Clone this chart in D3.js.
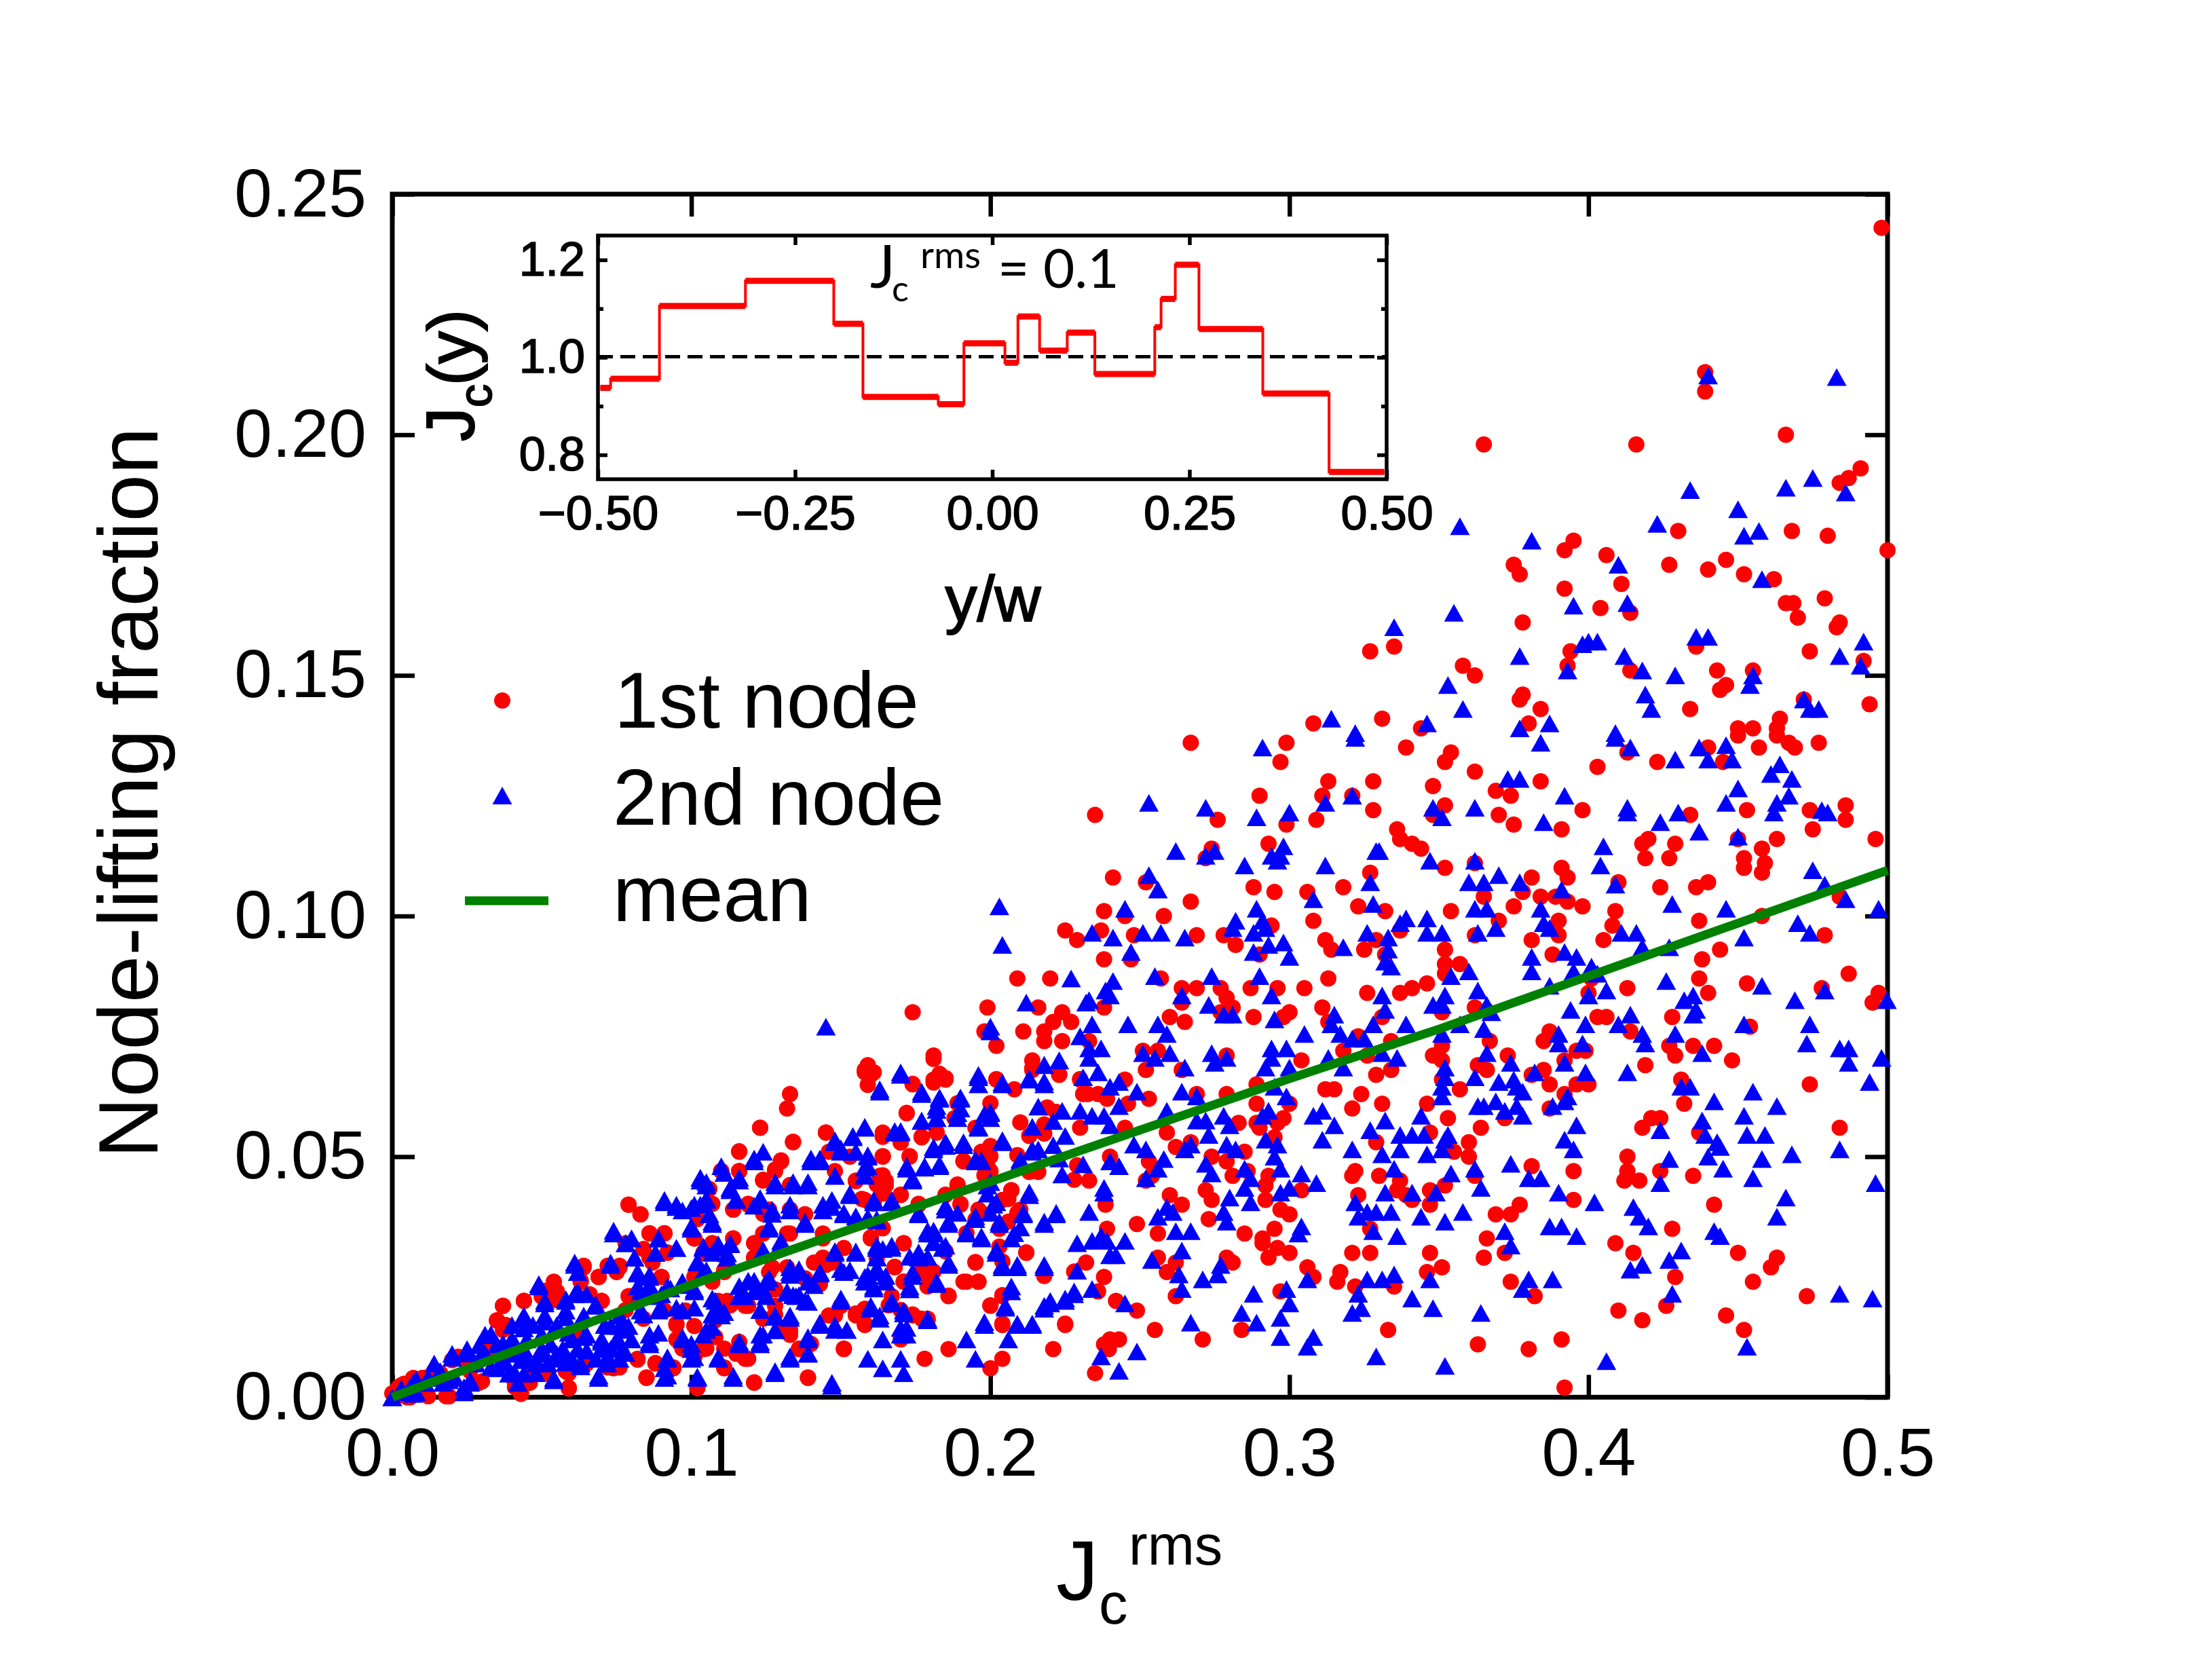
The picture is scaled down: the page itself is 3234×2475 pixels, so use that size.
<!DOCTYPE html>
<html><head><meta charset="utf-8">
<script src="https://cdn.jsdelivr.net/npm/d3@7"></script>
<style>html,body{margin:0;padding:0;background:#fff}svg{display:block}text{font-family:"Liberation Sans",Arial,sans-serif;fill:#000}</style>
</head><body><svg id="c" width="3234" height="2475"></svg>
<script>
const xTicks=[0,0.1,0.2,0.3,0.4,0.5];
const yTicks=[0,0.05,0.1,0.15,0.2,0.25];
const insetXTicks=[-0.5,-0.25,0,0.25,0.5];
const insetYTicks=[0.8,1.0,1.2];
const insetYMinor=[0.9,1.1];
const stepEdges=[-0.497,-0.484,-0.422,-0.313,-0.201,-0.164,-0.0685,-0.036,0.016,0.0325,0.06,0.095,0.13,0.206,0.214,0.232,0.262,0.343,0.427,0.497];
const stepLevels=[0.9375,0.956,1.1055,1.157,1.069,0.919,0.904,1.029,0.989,1.084,1.014,1.051,0.966,1.062,1.12,1.19,1.058,0.926,0.765];
const meanX=[0,0.05,0.1,0.15,0.2,0.25,0.3,0.35,0.4,0.45,0.5];
const meanY=[0,0.0118,0.0234,0.0342,0.0448,0.0555,0.0662,0.0765,0.0875,0.0985,0.1095];
const firstNode=[[.498,.243],[.439,.213],[.439,.209],[.365,.198],[.416,.198],[.466,.2],[.491,.193],[.487,.191],[.484,.19],[.43,.18],[.468,.18],[.48,.179],[.395,.178],[.392,.176],[.406,.175],[.375,.173],[.377,.171],[.427,.173],[.446,.174],[.44,.172],[.452,.171],[.462,.17],[.5,.176],[.411,.169],[.392,.168],[.404,.164],[.414,.163],[.378,.161],[.466,.165],[.4685,.165],[.47,.162],[.479,.166],[.484,.161],[.483,.16],[.327,.155],[.335,.156],[.394,.155],[.393,.152],[.436,.156],[.474,.155],[.492,.153],[.358,.152],[.362,.15],[.414,.151],[.443,.151],[.455,.151],[.446,.148],[.444,.147],[.378,.146],[.377,.145],[.384,.143],[.434,.143],[.472,.145],[.494,.144],[.308,.14],[.331,.141],[.464,.141],[.38,.14],[.45,.139],[.455,.139],[.463,.139],[.344,.139],
[.267,.136],[.299,.136],[.297,.132],[.339,.135],[.354,.134],[.352,.132],[.44,.135],[.45,.1375],[.457,.135],[.463,.1375],[.467,.136],[.469,.135],[.477,.136],[.413,.134],[.423,.132],[.445,.132],[.403,.131],[.362,.13],[.313,.128],[.328,.128],[.348,.127],[.369,.126],[.374,.125],[.384,.128],[.29,.125],[.311,.125],[.321,.125],[.352,.123],[.328,.122],[.235,.121],[.276,.12],[.299,.119],[.309,.12],[.37,.121],[.375,.119],[.398,.122],[.391,.118],[.434,.121],[.453,.122],[.474,.122],[.486,.123],[.486,.12],[.475,.118],[.348,.121],[.336,.118],[.337,.116],[.341,.115],[.344,.114],[.293,.115],[.274,.114],[.272,.112],[.352,.11],[.362,.111],[.327,.109],[.42,.116],[.418,.115],[.429,.115],[.419,.112],[.427,.112],[.45,.116],[.458,.114],[.463,.116],[.452,.112],[.452,.11],[.459,.111],[.458,.109],[.496,.116],[.391,.11],[.393,.108],[.381,.108],[.41,.107],[.241,.108],[.252,.107],[.288,.106],[.295,.105],[.318,.106],[.306,.105],[.424,.106],[.436,.106],[.44,.107],[.378,.105],[.384,.104],[.365,.104],[.389,.104],[.393,.103],[.484,.104],[.267,.103],[.323,.102],[.332,.101],[.354,.101],[.375,.102],[.398,.102],[.409,.101],[.238,.101],[.258,.1],[.308,.099],[.37,.099],[.39,.099],[.437,.099],[.458,.1],[.408,.098],[.245,.1],[.237,.097],[.248,.096],[.269,.096],[.278,.096],[.282,.094],[.294,.098],[.29,.092],[.337,.097],[.329,.095],[.312,.095],[.314,.093],[.325,.093],[.332,.092],[.362,.096],[.352,.093],[.39,.096],[.405,.095],[.381,.095],[.479,.096],[.444,.093],[.438,.091],[.388,.092],[.238,.091],[.247,.091],[.352,.09],[.357,.09],[.352,.088],[.487,.088],[.437,.087],[.453,.086],[.257,.087],[.313,.087],[.401,.087],[.264,.085],[.269,.085],[.277,.085],[.287,.085],[.296,.085],[.305,.085],[.326,.084],[.337,.084],[.341,.085],[.346,.086],[.413,.085],[.44,.084],[.4,.084],[.478,.085],[.497,.084],[.495,.082],[.279,.083],[.264,.082],[.281,.081],[.238,.081],[.277,.08],[.3,.08],[.311,.081],[.298,.079],[.26,.079],[.265,.078],[.288,.079],[.331,.079],[.362,.081],[.351,.08],[.403,.079],[.406,.079],[.428,.079],[.313,.078],[.454,.077],[.387,.076],[.414,.076],[.323,.075],[.233,.074],[.385,.074],[.334,.074],[.367,.074],[.427,.073],[.435,.073],[.442,.073],[.251,.072],[.256,.072],[.318,.072],[.351,.073],[.396,.072],[.399,.072],[.429,.071],[.348,.071],[.279,.071],[.373,.071],[.448,.07],[.304,.07],[.351,.07],[.392,.07],[.326,.071],[.363,.069],[.366,.068],[.419,.069],[.264,.068],[.252,.068],[.334,.068],[.329,.067],[.385,.068],[.381,.067],[.351,.066],[.396,.065],[.4,.065],[.431,.066],[.245,.066],[.474,.065],[.289,.065],[.387,.065],[.312,.064],[.315,.064],[.357,.064],[.269,.063],[.279,.063],[.324,.063],[.236,.063],[.2325,.063],[.253,.062],[.239,.062],[.289,.061],[.246,.061],[.3,.061],[.346,.061],[.331,.061],[.392,.063],[.432,.061],[.321,.06],[.387,.06],[.289,.057],[.298,.058],[.296,.057],[.353,.058],[.372,.058],[.421,.058],[.424,.058],[.283,.057],[.245,.056],[.364,.056],[.418,.056],[.484,.056],[.29,.056],[.259,.055],[.347,.055],[.437,.055],[.295,.054],[.267,.053],[.329,.053],[.36,.053],[.262,.052],[.24,.05],[.285,.051],[.355,.051],[.36,.05],[.274,.05],[.413,.05],[.253,.049],[.279,.049],[.381,.048],[.413,.047],[.424,.047],[.395,.047],[.286,.047],[.322,.047],[.254,.046],[.281,.046],[.293,.046],[.33,.046],[.321,.046],[.362,.046],[.435,.046],[.412,.045],[.417,.045],[.233,.045],[.252,.045],[.337,.045],[.352,.044],[.292,.044],[.272,.043],[.304,.043],[.336,.043],[.347,.043],[.323,.042],[.26,.042],[.339,.042],[.274,.041],[.292,.041],[.341,.041],[.2385,.04],[.264,.04],[.347,.04],[.377,.04],[.395,.041],[.442,.04],[.297,.039],[.3,.038],[.369,.038],[.374,.038],[.273,.037],[.249,.036],[.295,.035],[.327,.035],[.239,.035],[.428,.035],[.256,.034],[.285,.034],[.366,.033],[.291,.033],[.409,.032],[.291,.032],[.296,.031],[.3,.03],[.321,.03],[.327,.03],[.347,.03],[.372,.03],[.415,.03],[.45,.03],[.463,.029],[.293,.029],[.279,.029],[.256,.029],[.365,.029],[.281,.028],[.262,.028],[.306,.027],[.351,.027],[.461,.027],[.259,.026],[.317,.026],[.346,.026],[.308,.025],[.238,.025],[.429,.025],[.316,.024],[.374,.024],[.455,.024],[.322,.023],[.335,.023],[.297,.022],[.236,.022],[.262,.021],[.382,.021],[.473,.021],[.242,.02],[.426,.019],[.249,.018],[.41,.018],[.446,.017],[.418,.016],[.255,.014],[.333,.014],[.452,.014],[.284,.014],[.271,.012],[.363,.011],[.391,.012],[.243,.012],[.24,.012],[.238,.011],[.38,.01],[.2396,.01],[.235,.005],[.392,.002],
[.225,.097],[.229,.095],[.209,.087],[.22,.087],[.174,.08],[.199,.081],[.216,.081],[.224,.08],[.227,.078],[.221,.078],[.218,.076],[.198,.076],[.211,.076],[.202,.073],[.218,.074],[.224,.074],[.181,.071],[.214,.07],[.159,.069],[.158,.068],[.16,.067],[.183,.067],[.185,.066],[.181,.066],[.174,.065],[.202,.066],[.214,.068],[.223,.067],[.23,.066],
[.133,.063],[.132,.06],[.123,.056],[.134,.053],[.116,.051],[.145,.055],[.13,.049],[.128,.047],[.11,.047],[.116,.047],[.124,.045],[.133,.044],[.164,.055],[.172,.059],[.177,.054],[.182,.055],[.17,.053],[.173,.05],[.153,.05],[.164,.05],[.146,.051],[.191,.049],[.199,.048],[.163,.046],[.165,.044],[.155,.045],[.17,.042],[.158,.041],[.176,.04],[.189,.044],[.185,.042],[.207,.043],[.204,.041],[.199,.046],[.21,.039],[.19,.04],[.196,.039],[.203,.035],[.212,.03],[.195,.028],[.191,.024],[.196,.024],[.171,.032],[.16,.033],[.144,.034],[.138,.038],[.133,.039],[.114,.039],[.119,.04],[.132,.034],[.079,.04],[.083,.038],[.086,.034],[.091,.034],[.101,.033],[.107,.032],[.114,.033],[.121,.032],[.076,.027],[.086,.029],[.092,.03],[.104,.03],[.064,.027],[.054,.024],[.063,.024],[.069,.025],[.075,.026],[.09,.025],[.111,.026],[.121,.029],[.127,.027],[.144,.029],[.146,.028],[.151,.031],[.168,.027],[.179,.026],[.171,.024],[.179,.023],[.186,.021],[.204,.021],[.2,.019],[.225,.015],[.204,.015],[.221,.01],[.204,.008],[.2,.006],[.186,.01],[.178,.008],[.151,.01],[.139,.004],[.121,.003],[.085,.004],[.102,.002],[.059,.002],[.043,.001],[.029,.003],[.037,.019],[.044,.02],[.035,.016],[.037,.014],[.05,.021],[.055,.022],[.07,.02],[.079,.021],[.091,.018],[.095,.015],[.112,.02],[.118,.019],[.131,.014],[.133,.013],[.146,.017],[.155,.017],[.158,.015],[.167,.021],[.174,.017],[.179,.016],[.17,.012],[.136,.01],[.118,.008],[.111,.006],[.094,.006],[.088,.007],[.082,.008],[.074,.006],[.065,.007],[.059,.005],[.05,.005],[.041,.003],[.016,.005],[.024,.008],[.002,.002],[.007,.004],[.011,.004],[.018,.0002],[.001,0],[.006,0],[.032,.012],[.046,.005],[.098,.018],[.108,.016],[.095,.012],[.104,.01],[.115,.009],[.15,.019]];
const firstNodeDense=[[.116,.0511],[.134,.0531],[.123,.056],[.13,.0492],[.128,.0473],[.124,.0452],[.11,.047],[.116,.047],[.145,.055],[.148,.051],[.148,.047],[.133,.0441],[.079,.04],[.083,.038],[.106,.0433],[.107,.0402],[.114,.039],[.119,.0402],[.124,.0381],[.126,.039],[.133,.039],[.138,.038],[.102,.037],[.114,.033],[.107,.032],[.101,.033],[.133,.034],[.124,.034],[.121,.032],[.086,.0341],[.091,.0341],[.078,.032],[.084,.0308],[.092,.0301],[.087,.028],[.064,.0273],[.069,.025],[.075,.0261],[.076,.0273],[.072,.0273],[.09,.025],[.121,.029],[.144,.033],[.147,.028],[.141,.028],[.145,.0275],[.132,.027],[.126,.026],[.111,.0264],[.101,.025],[.107,.024],[.138,.0247],[.143,.0235],[.08,.021],[.07,.02],[.066,.0214],[.078,.0181],[.084,.0163],[.095,.0153],[.101,.0148],[.109,.02],[.113,.0191],[.128,.0224],[.128,.019],[.119,.019],[.148,.017],[.124,.0163],[.128,.0172],[.133,.014],[.133,.013],[.108,.0125],[.111,.0101],[.116,.0115],[.119,.008],[.105,.0101],[.097,.0101],[.101,.0083],[.082,.0078],[.088,.0071],[.094,.0062],[.076,.0062],[.072,.0062],[.065,.0073],[.085,.0041],[.111,.0062],[.121,.0031],[.139,.0041],[.102,.0019],[.136,.0101],[.14,.0111],[.151,.0101],
[.181,.0703],[.159,.0684],[.158,.0675],[.161,.0675],[.159,.0649],[.174,.0651],[.183,.0672],[.185,.0663],[.181,.0654],[.202,.0661],[.208,.064],[.214,.0684],[.223,.0671],[.23,.0661],[.231,.063],[.189,.0611],[.2,.0611],[.188,.058],[.172,.0591],[.21,.0571],[.219,.0602],[.222,.0593],[.218,.0567],[.213,.0543],[.218,.0548],[.23,.056],[.195,.056],[.182,.055],[.177,.0541],[.164,.0541],[.17,.0529],[.164,.0501],[.173,.0501],[.2,.0522],[.197,.051],[.2,.0501],[.191,.0491],[.209,.0503],[.2,.047],[.198,.0461],[.213,.0468],[.216,.0468],[.229,.0482],[.164,.0461],[.165,.0449],[.162,.0442],[.155,.0449],[.164,.0423],[.17,.0421],[.157,.0412],[.161,.0402],[.176,.0402],[.189,.0442],[.185,.0421],[.19,.0402],[.207,.043],[.206,.0412],[.228,.0452],[.164,.0351],[.16,.0332],[.171,.032],[.185,.0303],[.195,.0369],[.197,.0383],[.192,.0341],[.203,.0351],[.206,.0365],[.209,.0383],[.203,.0313],[.212,.0301],[.195,.0281],[.204,.0282],[.168,.0271],[.162,.0289],[.177,.0261],[.181,.0261],[.171,.024],[.179,.0231],[.192,.024],[.196,.024],[.218,.0252],[.228,.0261],[.232,.028],[.186,.0211],[.204,.0212],[.2,.0191],[.155,.0174],[.158,.0184],[.158,.0153],[.17,.0181],[.174,.0172],[.177,.0163],[.179,.0163],[.166,.0191],[.204,.0153],[.225,.0153],
[.054,.0239],[.037,.019],[.044,.02],[.051,.0221],[.05,.0209],[.055,.0202],[.035,.0159],[.038,.015],[.063,.0242],[.02,.0077],[.022,.0084],[.014,.0054],[.004,.0028],[.01,.004],[.003,.0025],[.03,.0033],[.043,.0007],[.041,.0021],[.046,.003],[.059,.0018],[.051,.0049],[.058,.0054],[.019,.0002],[.012,.0002],[.005,0],[.001,0],[0,.0008],[.062,.0129],[.025,.0068],[.032,.0087],[.026,.0054]];
const secondNode=[[.44,.2123],[.483,.212],[.357,.181],[.381,.178],[.434,.1885],[.466,.189],[.475,.191],[.486,.188],[.45,.1845],[.423,.1815],[.452,.179],[.457,.18],[.41,.173],[.458,.17],[.395,.1645],[.413,.165],[.355,.163],[.335,.16],[.436,.158],[.44,.158],[.398,.1565],[.4,.157],[.403,.157],[.492,.157],[.377,.154],[.412,.154],[.484,.154],[.393,.151],[.418,.151],[.429,.15],[.455,.15],[.491,.152],[.353,.148],[.454,.148],[.419,.146],[.358,.143],[.421,.143],[.472,.145],[.474,.143],[.477,.143],[.314,.141],[.346,.14],[.387,.14],[.377,.139],[.322,.138],[.409,.138],
[.322,.137],[.291,.135],[.409,.137],[.414,.135],[.384,.136],[.437,.135],[.446,.1355],[.429,.1325],[.44,.1325],[.448,.1325],[.464,.1315],[.461,.1295],[.468,.1285],[.373,.1285],[.377,.1285],[.45,.1265],[.392,.125],[.321,.125],[.467,.125],[.253,.1235],[.446,.1235],[.463,.1235],[.362,.1225],[.272,.1225],[.348,.1225],[.312,.1235],[.413,.1225],[.3,.1215],[.413,.1215],[.43,.1215],[.462,.1215],[.478,.122],[.48,.1215],[.351,.1205],[.289,.1205],[.385,.1195],[.424,.1195],[.437,.1175],[.45,.1165],[.405,.1145],[.262,.1135],[.298,.1145],[.275,.1135],[.329,.1135],[.33,.1135],[.272,.1125],[.294,.1125],[.297,.1125],[.296,.1115],[.362,.1115],[.347,.1115],[.404,.1105],[.285,.1105],[.312,.1105],[.475,.1095],[.253,.1085],[.37,.1085],[.327,.107],[.36,.107],[.365,.107],[.377,.107],[.409,.1065],[.479,.1065],[.256,.1055],[.391,.1055],[.308,.1035],[.486,.1035],[.428,.1025],[.289,.1015],[.328,.1025],[.362,.1015],[.366,.1015],[.384,.1015],[.245,.1015],[.446,.1015],[.497,.1015],[.346,.0995],[.282,.099],[.291,.099],[.339,.0995],[.47,.0985],[.337,.0985],[.385,.0985],[.281,.0975],[.292,.0975],[.387,.0975],[.369,.0975],[.257,.0965],[.251,.0965],[.234,.0965],[.326,.0965],[.346,.0965],[.351,.0965],[.363,.0965],[.411,.0965],[.416,.0965],[.474,.0965],[.288,.0965],[.241,.0955],[.265,.0955],[.452,.0955],[.333,.0955],[.293,.094],[.298,.0945],[.427,.0935],[.318,.0935],[.333,.093],[.418,.0935],[.392,.0925],[.396,.0915],[.247,.0925],[.288,.0925],[.3,.0915],[.381,.0915],[.332,.0905],[.401,.0895],[.334,.0895],[.36,.0885],[.381,.0885],[.395,.0885],[.255,.0875],[.274,.0875],[.29,.0875],[.403,.088],[.354,.0875],[.426,.0865],[.241,.0865],[.387,.0855],[.458,.0855],[.2385,.0845],[.363,.0845],[.406,.0845],[.479,.0845],[.331,.0835],[.294,.0835],[.264,.0835],[.4,.0835],[.24,.0835],[.352,.0835],[.435,.0835],[.432,.0825],[.469,.0825],[.4998,.0825],[.233,.0825],[.348,.0815],[.351,.0815],[.273,.0815],[.366,.0815],[.394,.0805],[.332,.0805],[.436,.0805],[.278,.0795],[.281,.0795],[.3675,.08],[.414,.0795],[.435,.0795],[.315,.0795],[.295,.0785],[.314,.0775],[.246,.0775],[.256,.0775],[.234,.0775],[.339,.0775],[.328,.0775],[.399,.0775],[.41,.0775],[.452,.0775],[.474,.0775],[.259,.0755],[.305,.0755],[.317,.0755],[.351,.0755],[.357,.0775],[.365,.0765],[.39,.0755],[.418,.0755],[.429,.0755],[.39,.0735],[.321,.0745],[.325,.0745],[.473,.0735],[.419,.0735],[.398,.0735],[.237,.0725],[.233,.0725],[.294,.0725],[.299,.0725],[.484,.0725],[.487,.0725],[.438,.0715],[.366,.0715],[.274,.0715],[.26,.0715],[.251,.0715],[.331,.0715],[.279,.0705],[.255,.0705],[.294,.0705],[.313,.0705],[.233,.0705],[.275,.0695],[.336,.0705],[.374,.0695],[.487,.0695],[.498,.0705],[.392,.0695],[.265,.0685],[.292,.0685],[.318,.0685],[.3,.0685],[.352,.0685],[.236,.0675],[.382,.0675],[.399,.0675],[.413,.0675],[.362,.0665],[.352,.0665],[.375,.066],[.37,.0655],[.243,.0655],[.24,.0645],[.494,.0655],[.351,.0645],[.376,.0645],[.431,.0645],[.434,.0645],[.295,.0645],[.249,.0635],[.378,.0635],[.264,.0635],[.455,.0635],[.269,.0625],[.299,.0625],[.351,.0625],[.393,.0625],[.243,.0605],[.365,.0605],[.392,.0615],[.369,.0615],[.442,.0615],[.363,.0605],[.376,.0605],[.463,.0605],[.388,.0605],[.259,.0595],[.293,.0595],[.372,.0595],[.378,.0585],[.278,.0585],[.291,.0585],[.234,.0585],[.238,.0585],[.308,.0585],[.311,.0595],[.344,.0585],[.452,.0585],[.269,.0575],[.438,.0575],[.332,.0575],[.272,.0575],[.396,.0565],[.315,.0565],[.24,.0565],[.28,.0565],[.424,.0555],[.327,.0555],[.273,.0545],[.337,.0545],[.341,.0545],[.345,.0545],[.353,.0545],[.439,.0545],[.453,.0545],[.459,.0545],[.292,.0535],[.352,.0535],[.392,.0535],[.311,.0535],[.443,.053],[.267,.0525],[.248,.0525],[.296,.0525],[.279,.0525],[.252,.0515],[.265,.0515],[.282,.0515],[.321,.0515],[.337,.0515],[.351,.0515],[.395,.0515],[.444,.052],[.484,.0515],[.331,.0505],[.346,.0505],[.468,.0505],[.295,.05],[.44,.05],[.258,.0495],[.427,.0495],[.458,.0495],[.24,.049],[.272,.0485],[.374,.0485],[.243,.048],[.256,.0475],[.335,.0475],[.362,.0475],[.445,.0475],[.285,.0475],[.297,.0475],[.304,.0465],[.274,.0465],[.354,.0465],[.38,.0455],[.384,.0455],[.455,.0455],[.252,.0455],[.287,.0455],[.309,.0445],[.424,.0445],[.496,.0445],[.238,.0435],[.364,.0435],[.3,.0435],[.285,.0435],[.297,.0425],[.332,.0425],[.341,.0425],[.349,.0425],[.39,.0425],[.238,.0425],[.28,.0415],[.466,.0415],[.287,.0405],[.322,.0405],[.402,.0405],[.415,.0395],[.259,.0395],[.261,.0385],[.326,.0385],[.329,.0385],[.334,.0385],[.358,.0385],[.233,.0385],[.278,.0385],[.417,.0375],[.463,.0375],[.323,.0375],[.344,.0375],[.256,.0375],[.352,.0365],[.279,.0365],[.42,.0355],[.387,.0355],[.391,.0355],[.304,.0355],[.328,.0345],[.267,.0345],[.262,.0345],[.372,.0345],[.442,.0345],[.303,.034],[.396,.0335],[.444,.0335],[.336,.0335],[.245,.0325],[.237,.0335],[.234,.0325],[.239,.0325],[.374,.0315],[.264,.0305],[.431,.0305],[.24,.0295],[.242,.0295],[.427,.0285],[.254,.0285],[.418,.0275],[.277,.0275],[.414,.0265],[.263,.0255],[.276,.0255],[.326,.0245],[.335,.0255],[.331,.0245],[.347,.0245],[.271,.0245],[.306,.0245],[.38,.0245],[.388,.0245],[.234,.0225],[.264,.0225],[.299,.0225],[.378,.0225],[.323,.0215],[.288,.0215],[.428,.0215],[.484,.0215],[.341,.0205],[.495,.0205],[.245,.0195],[.3,.0195],[.348,.0185],[.324,.0185],[.284,.0175],[.321,.0175],[.364,.0175],[.297,.0165],[.289,.0155],[.267,.0155],[.308,.0125],[.297,.0125],[.306,.0105],[.453,.0105],[.249,.0095],[.237,.0085],[.329,.0085],[.406,.0075],[.352,.0065],[.243,.0055],
[.203,.102],[.204,.094],[.227,.087],[.212,.082],[.232,.082],[.2,.077],[.2,.076],[.23,.075],[.223,.07],[.218,.069],[.17,.067],[.196,.067],[.204,.065],[.213,.066],[.218,.065],
[.145,.077],[.163,.064],[.177,.063],[.183,.062],[.19,.062],[.19,.06],[.182,.0605],[.182,.058],[.177,.0575],[.189,.058],[.2,.059],[.2,.058],[.196,.056],[.158,.056],[.168,.055],[.17,.055],[.154,.054],[.148,.053],[.15,.051],[.155,.051],[.159,.05],[.181,.052],[.185,.053],[.191,.053],[.204,.053],[.124,.051],[.121,.049],[.14,.049],[.143,.049],[.11,.048],[.103,.045],[.116,.045],[.105,.044],[.128,.044],[.134,.044],[.139,.044],[.113,.043],[.148,.046],[.159,.048],[.158,.046],[.172,.048],[.178,.048],[.183,.048],[.174,.045],[.195,.049],[.197,.049],[.21,.049],[.214,.051],[.153,.042],[.115,.041],[.105,.041],[.123,.041],[.091,.041],[.095,.04],[.101,.04],[.103,.04],[.106,.038],[.127,.039],[.133,.04],[.144,.04],[.147,.041],[.161,.041],[.167,.041],[.199,.044],[.201,.04],[.213,.042],[.151,.038],[.155,.037],[.162,.037],[.176,.038],[.185,.039],[.186,.036],[.203,.036],[.195,.037],[.211,.038],[.218,.036],[.222,.038],[.1,.035],[.107,.036],[.138,.036],[.126,.035],[.074,.034],[.08,.033],[.078,.032],[.089,.033],[.095,.031],[.13,.032],[.104,.031],[.109,.031],[.113,.032],[.112,.029],[.107,.03],[.124,.03],[.148,.03],[.155,.03],[.162,.031],[.167,.031],[.179,.034],[.181,.034],[.184,.031],[.192,.034],[.197,.033],[.207,.033],[.202,.03],[.176,.029],[.162,.029],[.088,.03],[.081,.029],[.073,.028],[.102,.028],[.186,.028],[.204,.027],[.209,.027],[.218,.027],[.061,.028],[.151,.026],[.174,.026],[.162,.026],[.082,.026],[.086,.025],[.104,.026],[.133,.026],[.136,.026],[.143,.026],[.182,.024],[.158,.024],[.165,.024],[.049,.023],[.119,.024],[.125,.024],[.139,.024],[.097,.024],[.092,.023],[.082,.023],[.161,.023],[.173,.023],[.207,.022],[.228,.022],[.22,.02],[.225,.02],[.218,.019],[.205,.019],[.062,.022],[.058,.02],[.068,.019],[.051,.02],[.086,.021],[.101,.022],[.121,.022],[.116,.021],[.125,.021],[.132,.022],[.135,.021],[.138,.02],[.108,.02],[.15,.02],[.16,.019],[.167,.02],[.171,.018],[.179,.016],[.163,.017],[.044,.017],[.051,.017],[.058,.018],[.064,.017],[.076,.017],[.083,.018],[.089,.018],[.097,.018],[.108,.018],[.128,.017],[.133,.017],[.124,.013],[.143,.015],[.148,.015],[.152,.014],[.198,.015],[.209,.015],[.214,.015],[.031,.013],[.04,.015],[.047,.015],[.055,.015],[.071,.015],[.078,.014],[.086,.013],[.097,.012],[.105,.014],[.11,.017],[.128,.014],[.139,.012],[.164,.012],[.17,.013],[.172,.013],[.192,.012],[.206,.012],[.025,.01],[.02,.009],[.035,.011],[.044,.01],[.053,.011],[.062,.01],[.07,.01],[.077,.01],[.086,.011],[.1,.01],[.116,.011],[.123,.011],[.139,.009],[.133,.008],[.159,.008],[.17,.008],[.195,.008],[.092,.008],[.109,.008],[.1,.008],[.014,.007],[.028,.007],[.038,.007],[.048,.007],[.056,.008],[.063,.007],[.072,.007],[.076,.008],[.128,.005],[.164,.006],[.171,.005],[.069,.004],[.091,.004],[.102,.004],[.114,.004],[.054,.004],[.041,.005],[.048,.005],[.147,.003],[.091,.006],[.021,.004],[.026,.003],[.017,.003],[.011,.003],[.007,.003],[.003,.001],[0,0],[.008,.001],[.024,.001],
[.03,.009],[.04,.012],[.05,.013],[.06,.012],[.065,.013],[.07,.012],[.075,.012],[.08,.012],[.035,.006],[.045,.008],[.055,.009],[.06,.008],[.068,.008],[.073,.01],[.05,.009],[.04,.009],[.042,.003],[.052,.007]];
const secondNodeDense=[[.074,.0346],[.078,.032],[.08,.033],[.089,.033],[.088,.03],[.081,.029],[.095,.031],[.073,.0275],[.082,.0257],[.086,.0254],[.086,.0233],[.083,.022],[.093,.0226],[.097,.0233],[.09,.0214],[.101,.0224],[.065,.0214],[.068,.0193],[.062,.026],[.103,.0456],[.105,.0447],[.111,.0466],[.116,.0456],[.113,.0435],[.115,.0412],[.091,.0405],[.095,.0395],[.097,.0388],[.1,.0393],[.105,.0412],[.106,.0381],[.107,.0365],[.1,.0355],[.121,.0398],[.123,.0414],[.127,.0381],[.126,.0355],[.13,.0325],[.133,.0388],[.138,.0365],[.144,.0388],[.147,.0395],[.151,.0383],[.148,.046],[.128,.0447],[.134,.0447],[.139,.0447],[.14,.0496],[.143,.0496],[.121,.0496],[.148,.0534],[.15,.0517],[.104,.0313],[.109,.0318],[.113,.0318],[.112,.0299],[.102,.0282],[.105,.0264],[.124,.0306],[.133,.027],[.136,.0266],[.133,.0254],[.148,.0304],[.15,.0266],[.143,.0257],[.141,.0233],[.126,.0247],[.119,.0242],[.121,.0242],[.116,.0231],[.124,.0224],[.118,.021],[.132,.0217],[.134,.0212],[.136,.0212],[.139,.0198],[.15,.0205],[.107,.0205],[.111,.0177],[.123,.0181],[.128,.0167],[.133,.0165],[.143,.0155],[.148,.014],[.152,.014],[.101,.0186],[.095,.0186],[.09,.0186],[.084,.0172],[.107,.0172],[.107,.0146],[.097,.0125],[.1,.0111],[.104,.013],[.089,.0134],[.086,.0115],[.079,.0148],[.076,.0148],[.073,.0148],[.076,.0115],[.07,.0115],[.065,.0097],[.064,.0125],[.072,.0085],[.078,.0092],[.123,.0115],[.123,.013],[.128,.0139],[.139,.0125],[.139,.0092],[.116,.0115],[.092,.0083],[.101,.0083],[.109,.0083],[.133,.0085],[.147,.0024],[.128,.0054],[.114,.0045],[.102,.0043],[.092,.0045],[.069,.0045],[.063,.0064],
[.17,.0675],[.163,.0635],[.177,.0635],[.183,.0623],[.182,.0597],[.182,.058],[.19,.0623],[.189,.059],[.177,.0574],[.196,.0665],[.196,.065],[.204,.0654],[.213,.0663],[.218,.0691],[.218,.0656],[.223,.07],[.231,.0665],[.2,.0593],[.198,.0588],[.196,.0562],[.216,.0604],[.214,.0562],[.221,.0574],[.224,.0595],[.225,.0543],[.23,.0595],[.204,.0534],[.185,.0522],[.191,.0524],[.181,.0515],[.168,.0553],[.17,.0553],[.158,.0562],[.154,.0543],[.155,.051],[.159,.0503],[.158,.0477],[.158,.0463],[.195,.0494],[.197,.0492],[.21,.0494],[.214,.0515],[.216,.0515],[.221,.0524],[.223,.0496],[.172,.0475],[.174,.0454],[.178,.0477],[.183,.0484],[.231,.0484],[.224,.0463],[.2,.0447],[.199,.0423],[.213,.0426],[.202,.0405],[.2,.0383],[.185,.0397],[.189,.0383],[.195,.0376],[.186,.0365],[.203,.0365],[.211,.0383],[.21,.0353],[.208,.0341],[.218,.0365],[.222,.0383],[.161,.0405],[.167,.0405],[.153,.0423],[.155,.0376],[.159,.0374],[.162,.0367],[.176,.0383],[.179,.0346],[.181,.0346],[.181,.0322],[.185,.0315],[.192,.0343],[.197,.0334],[.162,.0315],[.167,.0315],[.164,.0308],[.155,.0303],[.176,.0301],[.173,.0292],[.179,.0292],[.162,.0292],[.186,.0275],[.202,.0306],[.204,.0275],[.209,.0275],[.218,.0275],[.229,.032],[.229,.0263],[.162,.0268],[.159,.0254],[.165,.0252],[.158,.025],[.161,.0226],[.174,.0252],[.173,.0224],[.182,.0235],[.207,.023],[.153,.0264],[.225,.0205],[.228,.0214],[.22,.0195],[.218,.0184],[.205,.0186],[.198,.0156],[.209,.0153],[.214,.0153],[.16,.0184],[.163,.0163],[.167,.0195],[.171,.0174],[.179,.0163],[.172,.0144],[.17,.0144],
[.061,.0275],[.049,.0235],[.058,.0204],[.051,.0195],[.044,.0162],[.061,.0214],[.031,.0129],[.033,.0131],[.02,.0082],[.025,.0091],[.029,.0108],[.016,.0054],[.037,.0112],[.039,.011],[.041,.0112],[.044,.0143],[.045,.012],[.051,.0157],[.058,.0166],[.059,.0134],[.05,.0101],[.057,.0101],[.043,.0077],[.037,.0073],[.031,.0091],[.048,.0077],[.058,.0072],[.026,.0035],[.024,.0021],[.054,.0035],[.044,.0049],[.039,.0049],[.033,.0063],[.008,.0037],[.003,.0018],[.012,.004],[.006,.0021],[.019,.0035],[0,0],[.007,.0007]];

const svg=d3.select("#c");
svg.append("rect").attr("width",3234).attr("height",2475).attr("fill","#fff");

const x=d3.scaleLinear().domain([0,0.5]).range([578,2781]);
const y=d3.scaleLinear().domain([0,0.25]).range([2058.4,286]);
const ix=d3.scaleLinear().domain([-0.5,0.5]).range([881,2043]);
const iy=d3.scaleLinear().domain([0.75,1.25]).range([706,347]);

function styleAxis(g,size,width,heavy){
  g.select(".domain").remove();
  g.selectAll(".tick line").attr("stroke","#000").attr("stroke-width",width);
  g.selectAll(".tick text").attr("font-size",size).attr("fill","#000").attr("font-family","'Liberation Sans',Arial,sans-serif");
  if(heavy) g.selectAll(".tick text").attr("stroke","#000").attr("stroke-width",heavy);
}
function frame(xs,ys,sw){
  svg.append("rect").attr("x",xs.range()[0]).attr("y",ys.range()[1])
    .attr("width",xs.range()[1]-xs.range()[0]).attr("height",ys.range()[0]-ys.range()[1])
    .attr("fill","none").attr("stroke","#000").attr("stroke-width",sw);
}
function mkAxis(gen,tx,ty,size,width,heavy){
  return svg.append("g").attr("transform",`translate(${tx},${ty})`).call(gen).call(g=>styleAxis(g,size,width,heavy));
}
// main axes
const L=33;
mkAxis(d3.axisBottom(x).tickValues(xTicks).tickSize(-L).tickPadding(45).tickFormat(d3.format(".1f")),0,y.range()[0],100,6.5);
mkAxis(d3.axisTop(x).tickValues(xTicks).tickSize(-L).tickFormat(""),0,y.range()[1],100,6.5);
mkAxis(d3.axisLeft(y).tickValues(yTicks).tickSize(-L).tickPadding(38).tickFormat(d3.format(".2f")),x.range()[0],0,100,6.5);
mkAxis(d3.axisRight(y).tickValues(yTicks).tickSize(-L).tickFormat(""),x.range()[1],0,100,6.5);
frame(x,y,7);

// inset axes
const IL=14, IM=8;
mkAxis(d3.axisBottom(ix).tickValues(insetXTicks).tickSize(-IL).tickPadding(24).tickFormat(d3.format(".2f")),0,iy.range()[0],70,5.5,1.6);
mkAxis(d3.axisTop(ix).tickValues(insetXTicks).tickSize(-IL).tickFormat(""),0,iy.range()[1],70,5.5);
mkAxis(d3.axisLeft(iy).tickValues(insetYTicks).tickSize(-IL).tickPadding(19).tickFormat(d3.format(".1f")),ix.range()[0],0,70,5.5,1.6);
mkAxis(d3.axisRight(iy).tickValues(insetYTicks).tickSize(-IL).tickFormat(""),ix.range()[1],0,70,5.5);
mkAxis(d3.axisLeft(iy).tickValues(insetYMinor).tickSize(-IM).tickFormat(""),ix.range()[0],0,70,5.5);
mkAxis(d3.axisRight(iy).tickValues(insetYMinor).tickSize(-IM).tickFormat(""),ix.range()[1],0,70,5.5);

// inset content
svg.append("line").attr("x1",ix.range()[0]).attr("x2",ix.range()[1]).attr("y1",iy(1)-1).attr("y2",iy(1)-1)
  .attr("stroke","#000").attr("stroke-width",5).attr("stroke-dasharray","22 11");
const stepData=stepEdges.map((e,i)=>[e,i<stepLevels.length?stepLevels[i]:stepLevels[stepLevels.length-1]]);
svg.append("path").attr("d",d3.line().curve(d3.curveStepAfter).x(d=>ix(d[0])).y(d=>iy(d[1]))(stepData))
  .attr("fill","none").attr("stroke","#ff0000").attr("stroke-width",4);
svg.append("g").selectAll("line").data(stepLevels).join("line")
  .attr("x1",(d,i)=>ix(stepEdges[i])).attr("x2",(d,i)=>ix(stepEdges[i+1]))
  .attr("y1",d=>iy(d)).attr("y2",d=>iy(d))
  .attr("stroke","#ff0000").attr("stroke-width",9);
frame(ix,iy,5.5);

// markers
const triPath="M0,-13L14.5,13L-14.5,13Z";
svg.append("g").selectAll("circle").data(firstNode.concat(firstNodeDense)).join("circle")
  .attr("cx",d=>x(d[0])).attr("cy",d=>y(d[1])).attr("r",12).attr("fill","#ff0000");
svg.append("g").selectAll("path").data(secondNode.concat(secondNodeDense)).join("path")
  .attr("transform",d=>`translate(${x(d[0])},${y(d[1])})`).attr("d",triPath).attr("fill","#0000ff");
svg.append("path").attr("d",d3.line().x((d,i)=>x(meanX[i])).y(d=>y(d))(meanY))
  .attr("fill","none").attr("stroke","#008000").attr("stroke-width",13);

// legend
svg.append("circle").attr("cx",740).attr("cy",1032).attr("r",12).attr("fill","#ff0000");
svg.append("path").attr("transform","translate(740,1172)").attr("d",triPath).attr("fill","#0000ff");
svg.append("line").attr("x1",685).attr("x2",808).attr("y1",1327).attr("y2",1327).attr("stroke","#008000").attr("stroke-width",13);
function txt(s,px,py,size,extra){
  const t=svg.append("text").attr("x",px).attr("y",py).attr("font-size",size).text(s);
  if(extra) extra(t);
  return t;
}
txt("1st node",905,1072,117);
txt("2nd node",903,1215,117);
txt("mean",903,1357,117);

// axis titles
const heavy=t=>t.attr("stroke","#000").attr("stroke-width",2);
svg.append("text").attr("transform","translate(232,1168) rotate(-90)").attr("text-anchor","middle").attr("font-size",125).text("Node-lifting fraction");
txt("J",1556,2357,125);
txt("c",1619,2392,85);
txt("rms",1663,2305,83);
txt("y/w",1463,915,94,t=>{t.attr("text-anchor","middle");heavy(t);});
svg.append("text").attr("transform","translate(698,650) rotate(-90)").attr("font-size",100).text("J").call(heavy);
svg.append("text").attr("transform","translate(724,600) rotate(-90)").attr("font-size",68).text("c").call(heavy);
svg.append("text").attr("transform","translate(698,568) rotate(-90)").attr("font-size",96).text("(y)").call(heavy);
const lato=t=>t.style("font-family","Lato");
txt("J",1282,424,88,lato);
txt("c",1314,444,52,lato);
txt("rms",1356,395,55,lato);
txt("= 0.1",1470,424,80,lato);
</script></body></html>
